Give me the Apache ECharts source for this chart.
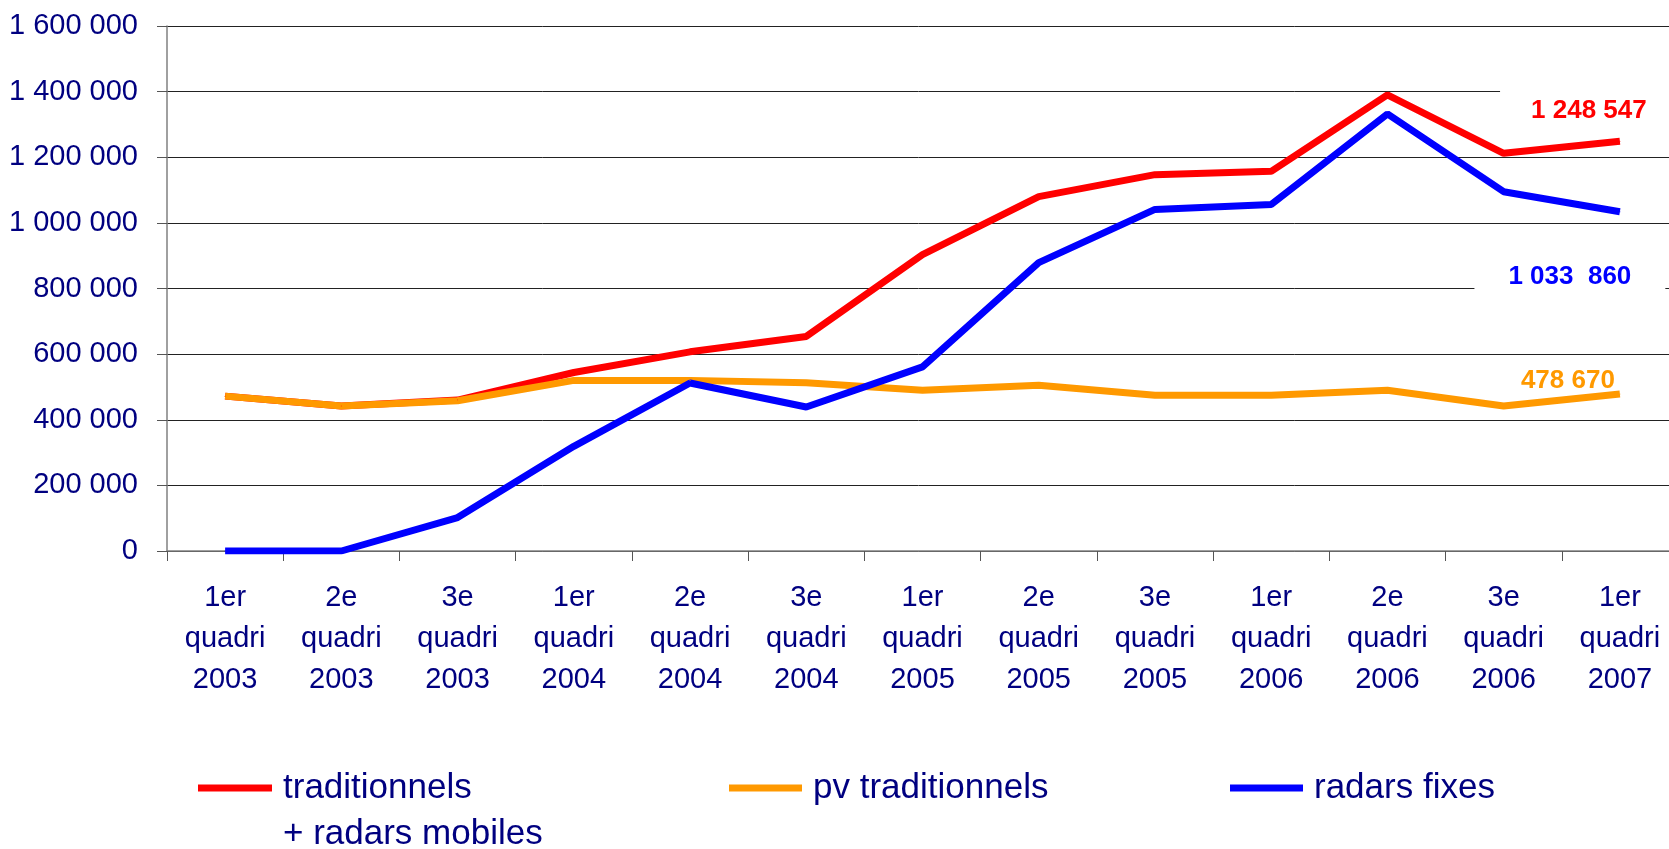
<!DOCTYPE html>
<html>
<head>
<meta charset="utf-8">
<style>
html,body{margin:0;padding:0;background:#fff;}
#c{width:1669px;height:849px;}
</style>
<script src="https://cdn.jsdelivr.net/npm/echarts@6/dist/echarts.min.js"></script>
</head>
<body>
<div id="c"></div>
<script>
const categories = ["1er\nquadri\n2003","2e\nquadri\n2003","3e\nquadri\n2003","1er\nquadri\n2004","2e\nquadri\n2004","3e\nquadri\n2004","1er\nquadri\n2005","2e\nquadri\n2005","3e\nquadri\n2005","1er\nquadri\n2006","2e\nquadri\n2006","3e\nquadri\n2006","1er\nquadri\n2007"];
const seriesNames = ["traditionnels + radars mobiles","pv traditionnels","radars fixes"];
const tradRadarsMobiles = [472000,442000,460000,544000,607000,654000,903000,1080000,1147000,1157000,1390000,1212000,1248547];
const pvTraditionnels = [472000,442000,458000,520000,520000,513000,490000,505000,475000,475000,490000,442000,478670];
const radarsFixes = [0,0,102000,319000,512000,439000,561000,879000,1041000,1056000,1332000,1095000,1033860];
const endLabels = ["1 248 547","478 670","1 033  860"];
const yTicks = [0,200000,400000,600000,800000,1000000,1200000,1400000,1600000];

const colors = ["#FF0000","#FF9900","#0000FF"];
const navy = "#000080";
const font = "Liberation Sans, Arial, sans-serif";

function fmt(v){ return String(v).replace(/\B(?=(\d{3})+(?!\d))/g, " "); }

function buildData(arr, labelText, labelOpt){
  return arr.map((v,i)=> i===arr.length-1 ? {value:v, label:Object.assign({show:true, formatter:labelText}, labelOpt)} : v);
}

const labelBase = {position:'inside', fontFamily:font, fontWeight:'bold', fontSize:26, lineHeight:26, align:'center', verticalAlign:'middle'};

const chart = echarts.init(document.getElementById('c'), null, {renderer:'canvas'});
const option = {
  animation:false,
  backgroundColor:'#fff',
  grid:{left:167, top:26, width:1511, height:525, containLabel:false, outerBoundsMode:'none'},
  xAxis:{
    type:'category', data:categories, boundaryGap:true,
    axisLine:{show:true, lineStyle:{color:'#808080', width:1.5}},
    axisTick:{show:true, interval:0, length:10, lineStyle:{color:'#555'}},
    axisLabel:{interval:0, margin:26, color:navy, fontFamily:font, fontSize:29, lineHeight:41},
    splitLine:{show:false}
  },
  yAxis:{
    type:'value', min:yTicks[0], max:yTicks[yTicks.length-1], interval:200000,
    axisLine:{show:true, lineStyle:{color:'#808080', width:1.5}},
    axisTick:{show:true, length:10, lineStyle:{color:'#555'}},
    axisLabel:{margin:29, color:navy, fontFamily:font, fontSize:29, formatter:fmt},
    splitLine:{show:true, lineStyle:{color:'#222', width:1}}
  },
  legend:[
    {data:[seriesNames[0]], left:198, top:788-69, padding:0, icon:'rect', itemWidth:74, itemHeight:7,
     formatter:()=> ' \ntraditionnels\n+ radars mobiles',
     textStyle:{color:navy, fontFamily:font, fontSize:35, lineHeight:46, padding:[0,0,0,6]}},
    {data:[seriesNames[1]], left:729, top:788-23, padding:0, icon:'rect', itemWidth:73, itemHeight:7,
     textStyle:{color:navy, fontFamily:font, fontSize:35, lineHeight:46, padding:[0,0,0,6]}},
    {data:[seriesNames[2]], left:1230, top:788-23, padding:0, icon:'rect', itemWidth:73, itemHeight:7,
     textStyle:{color:navy, fontFamily:font, fontSize:35, lineHeight:46, padding:[0,0,0,6]}}
  ],
  series:[
    {name:seriesNames[0], type:'line', symbol:'circle', symbolSize:1, showSymbol:true,
     itemStyle:{color:colors[0]}, lineStyle:{color:colors[0], width:7},
     data:buildData(tradRadarsMobiles, endLabels[0], Object.assign({}, labelBase, {color:colors[0], offset:[-31,-30], backgroundColor:'#fff', padding:[10,31,8,31]}))},
    {name:seriesNames[1], type:'line', symbol:'circle', symbolSize:1, showSymbol:true,
     itemStyle:{color:colors[1]}, lineStyle:{color:colors[1], width:7},
     data:buildData(pvTraditionnels, endLabels[1], Object.assign({}, labelBase, {color:colors[1], offset:[-52,-13]}))},
    {name:seriesNames[2], type:'line', symbol:'circle', symbolSize:1, showSymbol:true,
     itemStyle:{color:colors[2]}, lineStyle:{color:colors[2], width:7},
     data:buildData(radarsFixes, endLabels[2], Object.assign({}, labelBase, {color:colors[2], offset:[-50,65], backgroundColor:'#fff', padding:[6,34,8,34]}))}
  ]
};
chart.setOption(option);
</script>
</body>
</html>
